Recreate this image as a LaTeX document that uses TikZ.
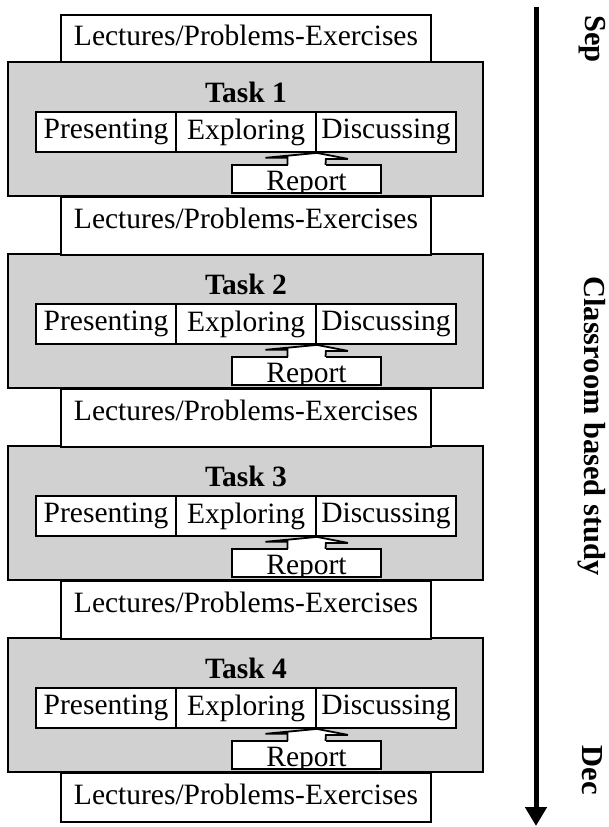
\documentclass[tikz,border=0pt]{standalone}
\usepackage{fontspec}
\setmainfont{Liberation Serif}
\usetikzlibrary{arrows.meta}
\definecolor{taskgray}{RGB}{209,209,209}
\newcommand\diagfont{\fontsize{29.5}{32}\selectfont}
\newcommand\sidefont{\fontsize{30.5}{33}\selectfont}
\tikzset{
  lecbox/.style={draw,line width=1.8pt,fill=white,minimum width=370pt,inner sep=0pt,text height=20pt},
  taskbox/.style={draw,line width=1.8pt,fill=taskgray,minimum width=475pt,minimum height=134pt,inner sep=0pt},
  stagebox/.style={draw,line width=1.8pt,fill=white,minimum width=140pt,minimum height=40pt,inner sep=0pt},
  reportbox/.style={fill=white,minimum width=149pt,minimum height=28pt,inner sep=0pt},
  blockarrow/.style={line width=1.8pt,line join=miter,fill=white},
  timeline/.style={line width=5pt,-{Triangle[width=21pt,length=19pt]}},
  titlelabel/.style={font=\diagfont\bfseries},
  sidelabel/.style={rotate=-90,font=\sidefont\bfseries}
}
\begin{document}
\begin{tikzpicture}[x=1pt,y=-1pt,font=\diagfont]
\useasboundingbox (0,0) rectangle (609,827);
\node[lecbox,minimum height=47pt,text depth=6pt] (lec0) at (246,38.5) {Lectures/Problems-Exercises};
\foreach \i/\t in {1/62,2/254,3/446,4/638}{
  \node[taskbox] (task\i) at (245.5,\t+67) {};
  \node[titlelabel] (title\i) at (246,\t+30) {Task \i};
  \node[stagebox] (pres\i) at (106,\t+70) {Presenting};
  \node[stagebox] (expl\i) at (246,\t+70) {Exploring};
  \node[stagebox] (disc\i) at (386,\t+70) {Discussing};
  \node[reportbox] (rep\i) at (306.5,\t+117) {};
  \begin{scope}
    \clip (rep\i.south west) rectangle (rep\i.north east);
    \node[anchor=base] (reptext\i) at (306.5,\t+128) {Report};
  \end{scope}
  \draw[blockarrow] ([xshift=-19pt]rep\i.north) -- ++(0,-7) -- ++(-22,0) -- (expl\i.south east)
    -- ++(31,6) -- ++(-22,0) -- ([xshift=19pt]rep\i.north);
  \draw[line width=1.8pt,line join=miter] ([xshift=-19pt]rep\i.north) -| (rep\i.south west)
    -| (rep\i.north east) -- ([xshift=19pt]rep\i.north);
}
\foreach \i/\t in {1/196,2/388,3/580}{
  \node[lecbox,minimum height=58pt,text depth=14pt,anchor=north] (lec\i) at (246,\t) {Lectures/Problems-Exercises};
}
\node[lecbox,minimum height=49pt,text depth=6pt,anchor=north] (lec4) at (246,772) {Lectures/Problems-Exercises};
\coordinate (start) at (536,7);
\coordinate (end) at (536,826);
\draw[timeline] (start) -- (end);
\node[sidelabel] (sep) at (592,39) {Sep};
\node[sidelabel] (study) at (592,426) {Classroom based study};
\node[sidelabel] (dec) at (592,770) {Dec};
\end{tikzpicture}
\end{document}
